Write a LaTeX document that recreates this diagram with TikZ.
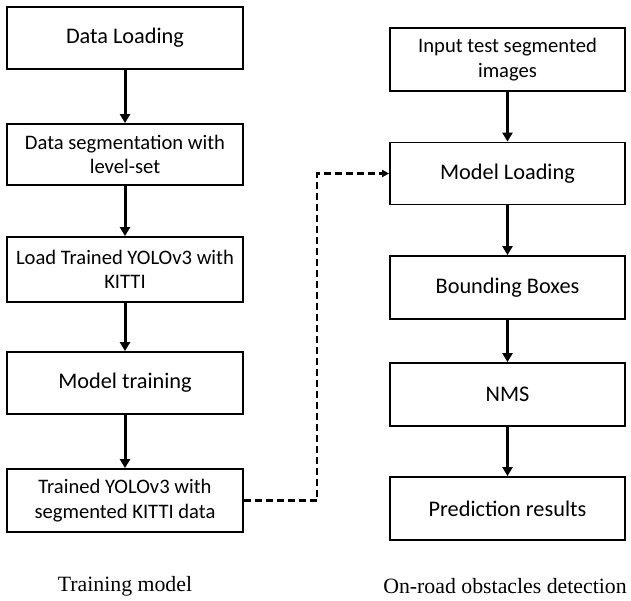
\documentclass[tikz,border=0pt]{standalone}
\usepackage{fontspec}
\setmainfont{Liberation Serif}
\newfontfamily\boxfont{Carlito}
\usetikzlibrary{arrows.meta}
\begin{document}
\begin{tikzpicture}[x=1pt,y=-1pt,
  box/.style={draw=black, line width=1.8pt, fill=white, minimum width=236pt, align=center, inner sep=2pt, font=\boxfont\fontsize{20.6}{24.5}\selectfont},
  big/.style={font=\boxfont\fontsize{22.3}{26}\selectfont},
  flow/.style={line width=3pt, -{Triangle[length=9pt,width=10pt]}},
  dashconn/.style={line width=2.6pt, dash pattern=on 7pt off 4pt, -{Triangle[length=7pt,width=7pt]}},
  caption/.style={font=\fontsize{21.8}{26}\selectfont}]
\useasboundingbox (0,0) rectangle (631,601);
\node[box,big,minimum height=62pt] (L1) at (125,38) {Data Loading};
\node[box,minimum height=61pt] (L2) at (125,154.5) {Data segmentation with\\level-set};
\node[box,minimum height=65pt] (L3) at (125,269.5) {Load Trained YOLOv3 with\\KITTI};
\node[box,big,minimum height=62pt] (L4) at (125,383) {Model training};
\node[box,minimum height=63pt] (L5) at (125,500.5) {Trained YOLOv3 with\\segmented KITTI data};
\node[box,minimum width=235pt,minimum height=63pt] (R1) at (507.5,59.5) {Input test segmented\\images};
\node[box,big,minimum width=235pt,minimum height=62pt] (R2) at (507.5,173.5) {Model Loading};
\node[box,big,minimum width=235pt,minimum height=63pt] (R3) at (507.5,287.5) {Bounding Boxes};
\node[box,big,minimum width=235pt,minimum height=63pt] (R4) at (507.5,394.5) {NMS};
\node[box,big,minimum width=235pt,minimum height=63pt] (R5) at (507.5,508.5) {Prediction results};
\node[caption] (c1) at (125,586) {Training model};
\node[caption] (c2) at (505,586) {On-road obstacles detection};
\draw[flow] (L1) -- (L2);
\draw[flow] (L2) -- (L3);
\draw[flow] (L3) -- (L4);
\draw[flow] (L4) -- (L5);
\draw[flow] (R1) -- (R2);
\draw[flow] (R2) -- (R3);
\draw[flow] (R3) -- (R4);
\draw[flow] (R4) -- (R5);
\coordinate (m) at (317,500);
\draw[dashconn] (L5.east) -- (L5.east -| m) |- (R2.west);
\end{tikzpicture}
\end{document}
